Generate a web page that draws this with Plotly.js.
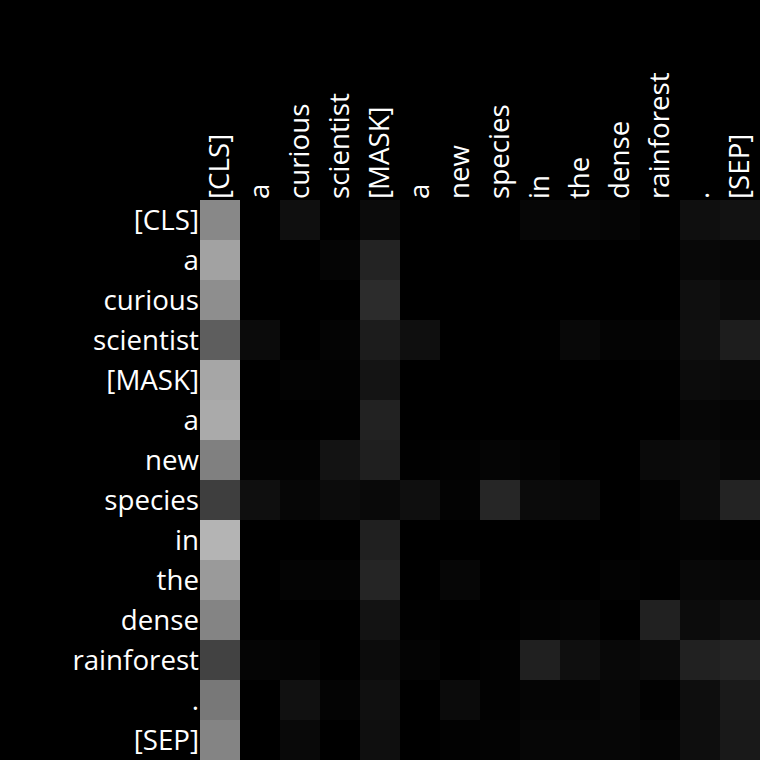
<!DOCTYPE html>
<html>
<head>
<meta charset="utf-8">
<script src="https://cdn.plot.ly/plotly-3.0.1.min.js"></script>
<style>html,body{margin:0;padding:0;background:#000;}#chart{width:760px;height:760px;}</style>
</head>
<body>
<div id="chart"></div>
<script>
const tokens = ["[CLS]","a","curious","scientist","[MASK]","a","new","species","in","the","dense","rainforest",".","[SEP]"];
// attention intensities (grey level 0-255)
const row0  = [136,0,15,0,11,0,0, 0,6,6,5,1,15,18];
const row1  = [162,0,0,5,35,0,0, 0,0,0,0,0,8,6];
const row2  = [142,0,0,0,44,0,0, 0,0,0,0,0,15,11];
const row3  = [94,11,0,4,28,15,0, 0,1,8,4,4,16,29];
const row4  = [166,0,3,2,20,0,0, 0,0,0,0,1,12,10];
const row5  = [170,0,0,1,34,0,0, 0,0,0,0,0,6,5];
const row6  = [128,3,3,19,31,1,2, 5,3,0,0,10,11,7];
const row7  = [62,15,6,12,9,15,3, 38,11,10,0,3,12,35];
const row8  = [180,0,0,0,32,0,0, 0,0,0,0,2,3,2];
const row9  = [154,0,4,4,37,0,6, 0,1,0,3,1,8,7];
const row10 = [132,0,0,0,19,1,0, 0,3,5,0,33,12,16];
const row11 = [66,5,4,0,12,4,0, 2,32,15,8,11,33,36];
const row12 = [120,0,17,4,16,0,11, 2,5,5,7,2,14,26];
const row13 = [132,0,9,0,15,0,2, 3,6,6,6,5,14,25];
const z = [row0,row1,row2,row3,row4,row5,row6,row7,row8,row9,row10,row11,row12,row13];
const idx = tokens.map((t,i)=>i);

Plotly.newPlot('chart',[{
  type:'heatmap',
  z:z, x:idx, y:idx,
  zmin:0, zmax:255,
  colorscale:[[0,'rgb(0,0,0)'],[1,'rgb(255,255,255)']],
  showscale:false,
  hoverinfo:'skip'
}],{
  width:760,height:760,
  paper_bgcolor:'#000', plot_bgcolor:'#000',
  margin:{l:200,r:0,t:200,b:0,pad:0},
  font:{family:'Open Sans, sans-serif',color:'#fff',size:27.7},
  xaxis:{side:'top',tickmode:'array',tickvals:idx,ticktext:tokens,tickangle:-90,
         showgrid:false,zeroline:false,ticks:'',showline:false,range:[-0.5,13.5]},
  yaxis:{tickmode:'array',tickvals:idx,ticktext:tokens,autorange:'reversed',
         showgrid:false,zeroline:false,ticks:'',showline:false}
},{displayModeBar:false,staticPlot:true});
</script>
</body>
</html>
